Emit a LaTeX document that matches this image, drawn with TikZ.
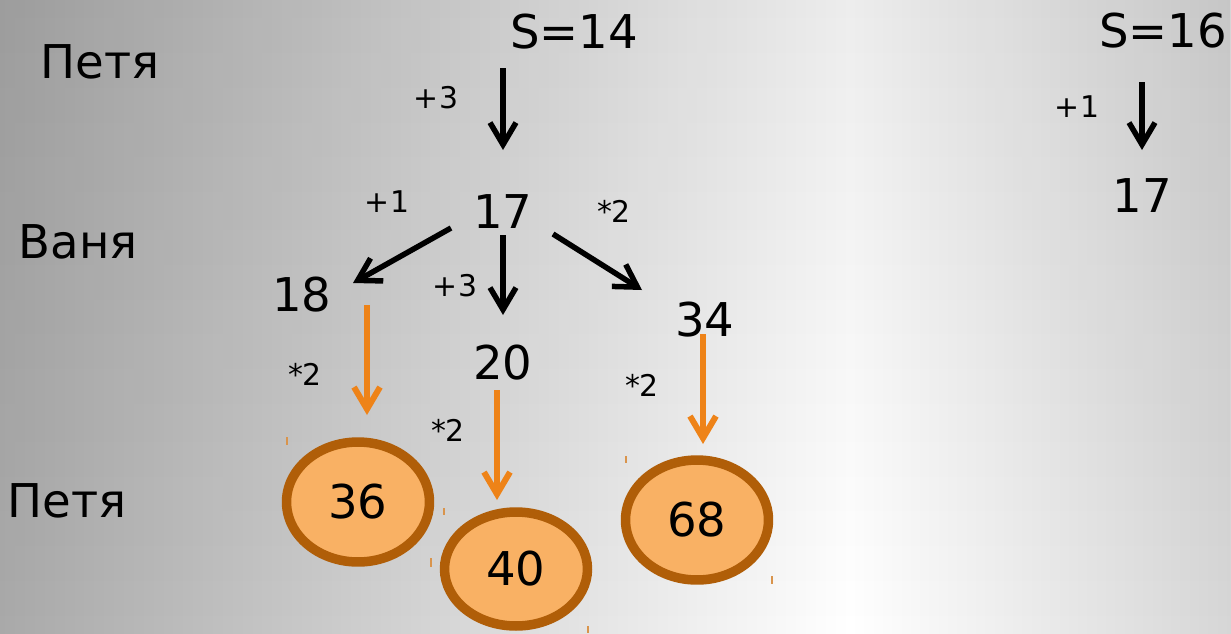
\documentclass[tikz,border=0pt]{standalone}
\usepackage{fontspec}
\setmainfont{DejaVu Sans}
\usetikzlibrary{arrows.meta, calc, shapes.geometric, fadings}
\definecolor{bgleft}{HTML}{A9A9A9}
\definecolor{bgright}{HTML}{D6D6D6}
\definecolor{arrorange}{HTML}{EE8318}
\definecolor{ovalfill}{HTML}{F9B164}
\definecolor{ovalline}{HTML}{B05E08}
\definecolor{speckcol}{HTML}{D9944C}
\begin{document}
\begin{tikzpicture}[x=0.02cm, y=-0.02cm,
    big/.style={inner sep=0pt, font=\fontsize{26.5}{30}\selectfont},
    small/.style={inner sep=0pt, font=\fontsize{17}{20}\selectfont},
    blackarrow/.style={line width=0.11cm, -{Straight Barb[length=0.44cm, width=0.52cm]}},
    orangearrow/.style={draw=arrorange, line width=0.12cm, -{Straight Barb[length=0.44cm, width=0.52cm]}},
    oval/.style={ellipse, draw=ovalline, fill=ovalfill, line width=0.19cm, minimum width=2.86cm,
        minimum height=2.4cm, inner sep=0pt, font=\fontsize{26.5}{30}\selectfont},
    speck/.style={draw=speckcol, line width=0.04cm}]
    \useasboundingbox (0,0) rectangle (1231,633);
    % background
    \fill[left color=bgleft, right color=white] (0,0) rectangle (850,633);
    \fill[left color=white, right color=bgright] (850,0) rectangle (1231,633);
    \fill[black, path fading=south, fill opacity=0.07] (0,0) rectangle (1231,633);

    % who moves
    \node[big] (lp1) at (100,62) {Петя};
    \node[big] (lv) at (78,242) {Ваня};
    \node[big] (lp2) at (67,501) {Петя};

    % left tree
    \node[big] (s14) at (574,32) {S=14};
    \node[big] (a17) at (503,212) {17};
    \node[big] (a18) at (302,295) {18};
    \node[big] (a20) at (503,363) {20};
    \node[big] (a34) at (705,320) {34};
    \node[oval] (e36) at (358,502) {36};
    \node[oval, minimum height=2.28cm] (e40) at (516,569) {40};
    \node[oval] (e68) at (697,520) {68};

    \node[small] (m1) at (436,98) {+3};
    \node[small] (m2) at (387,202) {+1};
    \node[small] (m3) at (455,286) {+3};
    \node[small] (m4) at (614,211) {*2};
    \node[small] (m5) at (305,374) {*2};
    \node[small] (m6) at (448,430) {*2};
    \node[small] (m7) at (642,385) {*2};

    \draw[blackarrow] ($(s14 -| a17)+(0,36)$) -- ($(a17)+(0,-62)$);
    \draw[blackarrow] ($(a17)+(-52,16)$) -- ($(a18)+(51,-12)$);
    \draw[blackarrow] ($(a17)+(0,23)$) -- ($(a20)+(0,-48)$);
    \draw[blackarrow] ($(a17)+(50,22)$) -- ($(a34)+(-63,-30)$);
    \draw[orangearrow] ($(a18)+(65,10)$) -- ($(e36)+(9,-87)$);
    \draw[orangearrow] ($(a20)+(-6,27)$) -- ($(e40)+(-19,-69)$);
    \draw[orangearrow] ($(a34)+(-2,14)$) -- ($(e68)+(6,-76)$);

    % right tree
    \node[big] (s16) at (1163,31) {S=16};
    \node[big] (r17) at (1142,196) {17};
    \node[small] (m8) at (1077,107) {+1};
    \draw[blackarrow] ($(s16 -| r17)+(0,51)$) -- ($(r17)+(0,-46)$);

    % stray marks
    \draw[speck] (287,437) -- (287,445);
    \draw[speck] (444,508) -- (444,515);
    \draw[speck] (431,558) -- (431,567);
    \draw[speck] (626,456) -- (626,463);
    \draw[speck] (772,576) -- (772,584);
    \draw[speck] (588,626) -- (588,633);
\end{tikzpicture}
\end{document}
